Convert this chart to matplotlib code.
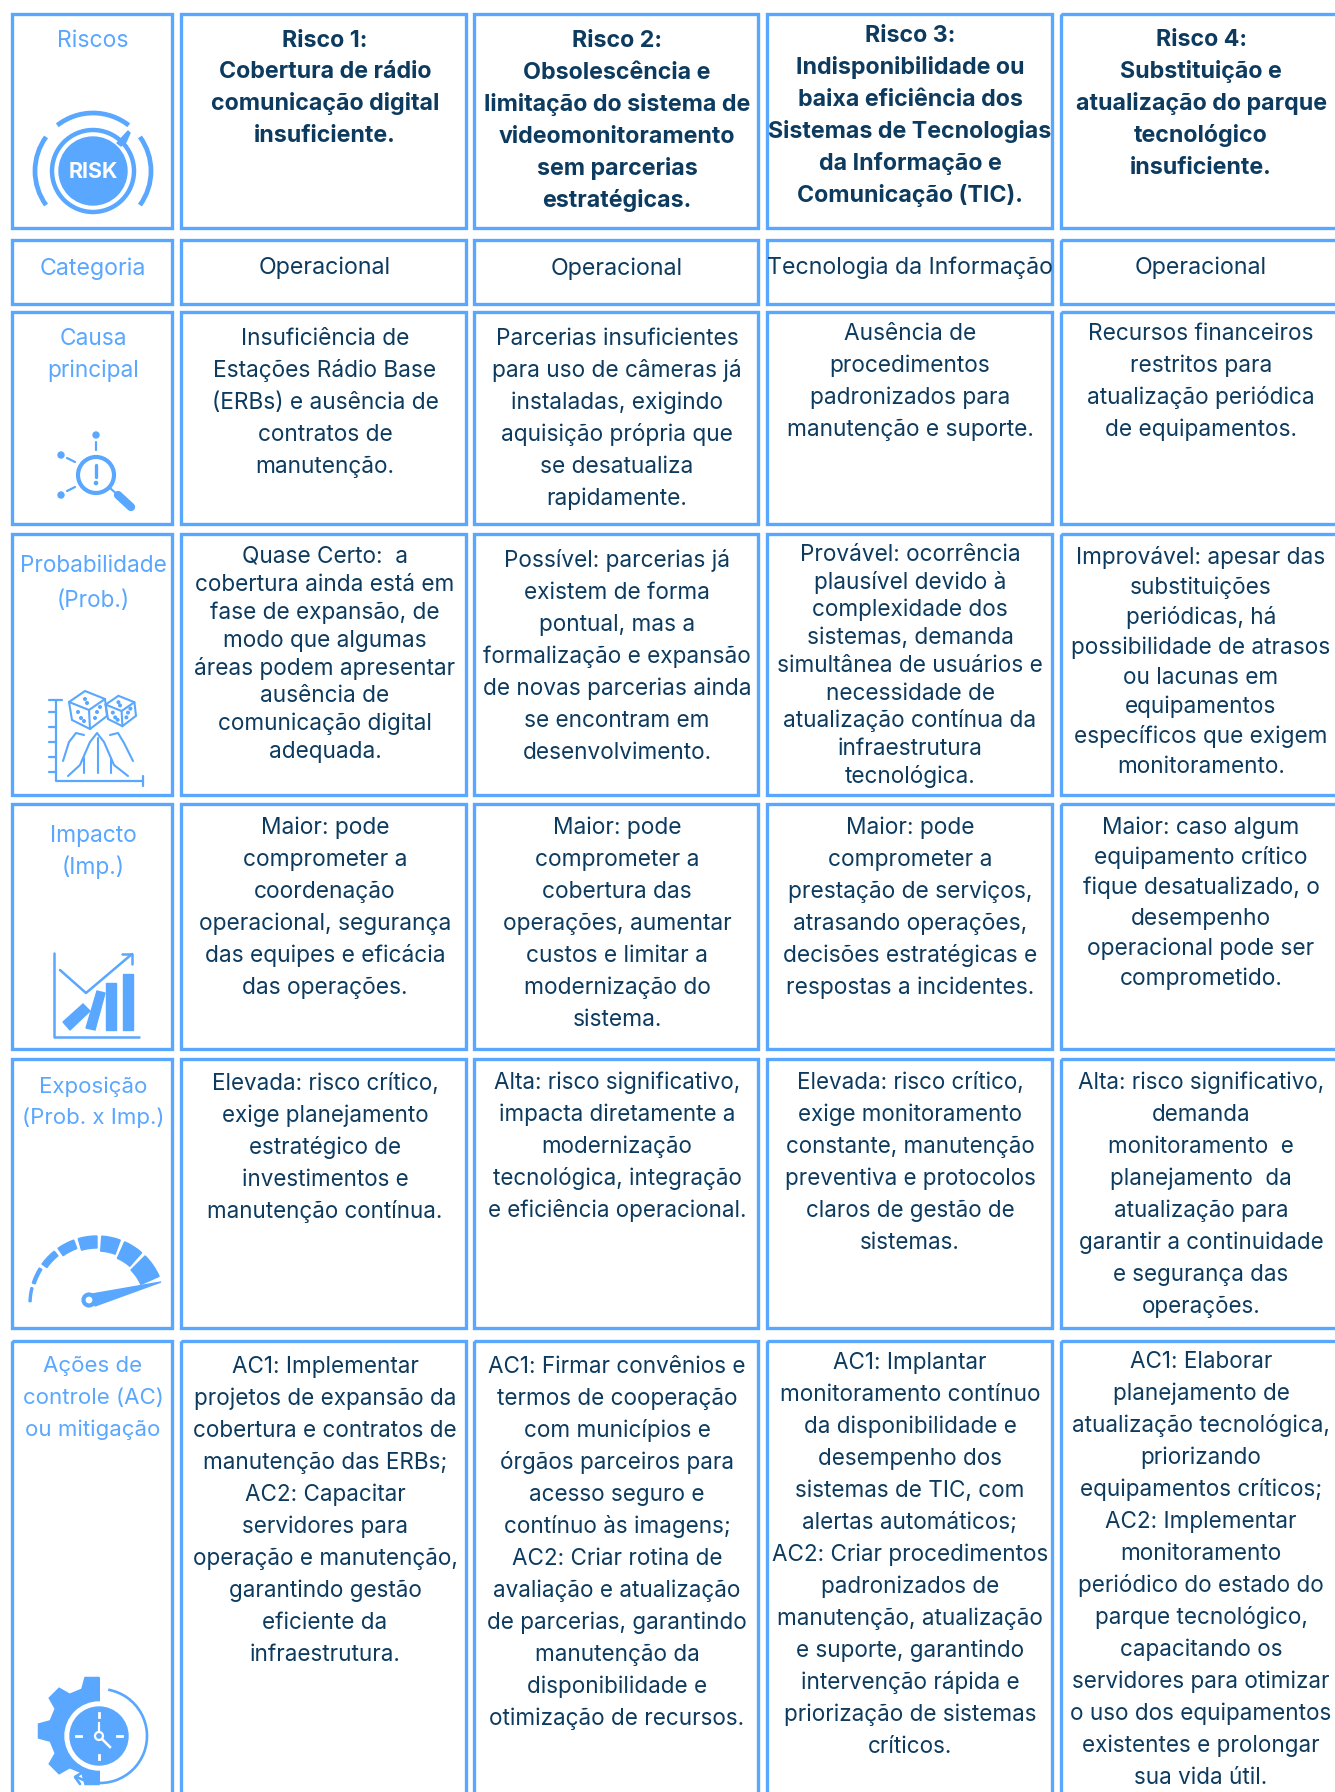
import numpy as np
import matplotlib
matplotlib.use('Agg')
import matplotlib.pyplot as plt
from matplotlib.patches import Rectangle, Circle, Wedge, Polygon, Arc

BLUE = '#59a7ff'
NAVY = '#0d3b5f'

row_labels = ['Riscos', 'Categoria', 'Causa\nprincipal', 'Probabilidade\n(Prob.)',
              'Impacto\n(Imp.)', 'Exposição\n(Prob. x Imp.)', 'Ações de\ncontrole (AC)\nou mitigação']

risks = ['Risco 1:\nCobertura de rádio\ncomunicação digital\ninsuficiente.',
         'Risco 2:\nObsolescência e\nlimitação do sistema de\nvideomonitoramento\nsem parcerias\nestratégicas.',
         'Risco 3:\nIndisponibilidade ou\nbaixa eficiência dos\nSistemas de Tecnologias\nda Informação e\nComunicação (TIC).',
         'Risco 4:\nSubstituição e\natualização do parque\ntecnológico\ninsuficiente.']
categories = ['Operacional', 'Operacional', 'Tecnologia da Informação', 'Operacional']
causes = ['Insuficiência de\nEstações Rádio Base\n(ERBs) e ausência de\ncontratos de\nmanutenção.',
          'Parcerias insuficientes\npara uso de câmeras já\ninstaladas, exigindo\naquisição própria que\nse desatualiza\nrapidamente.',
          'Ausência de\nprocedimentos\npadronizados para\nmanutenção e suporte.',
          'Recursos financeiros\nrestritos para\natualização periódica\nde equipamentos.']
probabilities = ['Quase Certo:  a\ncobertura ainda está em\nfase de expansão, de\nmodo que algumas\náreas podem apresentar\nausência de\ncomunicação digital\nadequada.',
                 'Possível: parcerias já\nexistem de forma\npontual, mas a\nformalização e expansão\nde novas parcerias ainda\nse encontram em\ndesenvolvimento.',
                 'Provável: ocorrência\nplausível devido à\ncomplexidade dos\nsistemas, demanda\nsimultânea de usuários e\nnecessidade de\natualização contínua da\ninfraestrutura\ntecnológica.',
                 'Improvável: apesar das\nsubstituições\nperiódicas, há\npossibilidade de atrasos\nou lacunas em\nequipamentos\nespecíficos que exigem\nmonitoramento.']
impacts = ['Maior: pode\ncomprometer a\ncoordenação\noperacional, segurança\ndas equipes e eficácia\ndas operações.',
           'Maior: pode\ncomprometer a\ncobertura das\noperações, aumentar\ncustos e limitar a\nmodernização do\nsistema.',
           'Maior: pode\ncomprometer a\nprestação de serviços,\natrasando operações,\ndecisões estratégicas e\nrespostas a incidentes.',
           'Maior: caso algum\nequipamento crítico\nfique desatualizado, o\ndesempenho\noperacional pode ser\ncomprometido.']
exposures = ['Elevada: risco crítico,\nexige planejamento\nestratégico de\ninvestimentos e\nmanutenção contínua.',
             'Alta: risco significativo,\nimpacta diretamente a\nmodernização\ntecnológica, integração\ne eficiência operacional.',
             'Elevada: risco crítico,\nexige monitoramento\nconstante, manutenção\npreventiva e protocolos\nclaros de gestão de\nsistemas.',
             'Alta: risco significativo,\ndemanda\nmonitoramento  e\nplanejamento  da\natualização para\ngarantir a continuidade\ne segurança das\noperações.']
actions = ['AC1: Implementar\nprojetos de expansão da\ncobertura e contratos de\nmanutenção das ERBs;\nAC2: Capacitar\nservidores para\noperação e manutenção,\ngarantindo gestão\neficiente da\ninfraestrutura.',
           'AC1: Firmar convênios e\ntermos de cooperação\ncom municípios e\nórgãos parceiros para\nacesso seguro e\ncontínuo às imagens;\nAC2: Criar rotina de\navaliação e atualização\nde parcerias, garantindo\nmanutenção da\ndisponibilidade e\notimização de recursos.',
           'AC1: Implantar\nmonitoramento contínuo\nda disponibilidade e\ndesempenho dos\nsistemas de TIC, com\nalertas automáticos;\nAC2: Criar procedimentos\npadronizados de\nmanutenção, atualização\ne suporte, garantindo\nintervenção rápida e\npriorização de sistemas\ncríticos.',
           'AC1: Elaborar\nplanejamento de\natualização tecnológica,\npriorizando\nequipamentos críticos;\nAC2: Implementar\nmonitoramento\nperiódico do estado do\nparque tecnológico,\ncapacitando os\nservidores para otimizar\no uso dos equipamentos\nexistentes e prolongar\nsua vida útil.']
rows = [risks, categories, causes, probabilities, impacts, exposures, actions]

# layout in pixels of the 1335x1792 picture
col_edges = [(12, 172), (181, 466), (474, 758), (767, 1052), (1061, 1345)]
col_centers = [93, 325, 617, 910, 1201]
row_edges = [(14, 228), (240, 304), (312, 524), (534, 795), (804, 1049), (1059, 1328), (1341, 1810)]
first_line = [[39, 39, 39, 34, 38],
              [267, 266, 267, 266, 266],
              [337, 337, 337, 332, 332],
              [564, 555, 559, 553, 556],
              [834, 826, 826, 826, 826],
              [1085, 1082, 1081, 1081, 1081],
              [1364, 1365, 1365, 1361, 1360]]
line_step = [[32, 31.5, 32, 32, 32],
             [32, 32, 32, 32, 32],
             [32, 32, 32, 32, 32],
             [35, 27.9, 32, 27.7, 29.9],
             [32, 32, 32, 32, 30.2],
             [31.5, 32, 32, 32, 32],
             [32, 32, 32, 32, 32]]
font_px = [23, 23.2, 22.7, 22.6, 22.8, 22.4, 22.5]

plt.rcParams['font.family'] = ['Inter', 'DejaVu Sans']
fig = plt.figure(figsize=(13.35, 17.92), dpi=100)
ax = fig.add_axes([0, 0, 1, 1])
ax.set_xlim(0, 1335)
ax.set_ylim(1792, 0)
ax.axis('off')

for r, (y0, y1) in enumerate(row_edges):
    for c, (x0, x1) in enumerate(col_edges):
        ax.add_patch(Rectangle((x0, y0), x1 - x0, y1 - y0, fill=False, ec=BLUE, lw=2.4))
        text = row_labels[r] if c == 0 else rows[r][c - 1]
        bold = r == 0 and c > 0
        for i, txt in enumerate(text.split('\n')):
            y = first_line[r][c] + i * line_step[r][c] + 8
            size = font_px[r] * 0.72 * (1.01 if bold else 1.0)
            ax.text(col_centers[c], y, txt, ha='center', va='baseline',
                    fontsize=min(size, 16.0) if c == 0 and r >= 5 else size,
                    color=BLUE if c == 0 else NAVY,
                    fontweight='bold' if bold else 'normal')


def line(xs, ys, lw=2.2, **kw):
    ax.plot(xs, ys, color=BLUE, lw=lw, solid_capstyle='round', **kw)


# risk badge
ax.add_patch(Circle((93, 171), 41, fill=False, ec=BLUE, lw=3.2))
ax.add_patch(Circle((93, 171), 34, color=BLUE))
ax.text(93, 172, 'RISK', color='white', fontsize=15.5, fontweight='bold', ha='center', va='center')
for mid, span in [(0, 72), (-90, 76), (180, 72)]:
    ax.add_patch(Arc((93, 171), 116, 116, theta1=mid - span / 2, theta2=mid + span / 2, ec=BLUE, lw=3.4))
ax.add_patch(Polygon([(117, 143), (128, 131), (130, 133), (126, 142), (121, 146)], color=BLUE))

# magnifier
ax.add_patch(Circle((96, 475), 18, fill=False, ec=BLUE, lw=3))
line([110, 120], [488, 497], lw=1.5)
line([118, 131], [495, 507], lw=6)
line([96, 96], [465, 477], lw=2.4)
ax.add_patch(Circle((96, 483), 1.6, color=BLUE))
for cx, cy, xs, ys in [(96, 435, [96, 96], [442, 450]),
                       (61, 455, [67, 75], [458, 462]),
                       (61, 495, [67, 75], [491, 487])]:
    ax.add_patch(Circle((cx, cy), 3, color=BLUE))
    line(xs, ys, lw=1.6)

# dice over bell curves
line([56, 56, 143], [700, 781, 781], lw=1.6)
line([49, 62], [700, 700], lw=1.6)
line([143, 143], [776, 786], lw=1.6)
for ty in [712, 727, 742, 757, 772]:
    line([49, 56], [ty, ty], lw=1.6)
for cx, cy, s in [(87, 710, 1.0), (120, 711, 0.8)]:
    ax.add_patch(Polygon([(cx - 18 * s, cy - 8 * s), (cx - 2 * s, cy - 19 * s), (cx + 18 * s, cy - 11 * s),
                          (cx + 20 * s, cy + 6 * s), (cx + 3 * s, cy + 19 * s), (cx - 15 * s, cy + 10 * s)],
                         fill=False, ec=BLUE, lw=1.5))
    line([cx - 18 * s, cx + 2 * s, cx + 18 * s], [cy - 8 * s, cy, cy - 11 * s], lw=1.5)
    line([cx + 2 * s, cx + 3 * s], [cy, cy + 19 * s], lw=1.5)
    for dx, dy in [(-2, -11), (0, -7), (-9, 2), (-6, 8), (10, 2), (13, -3), (8, 8), (-3, 11)]:
        ax.add_patch(Circle((cx + dx * s, cy + dy * s), 1.3, color=BLUE))
line([63, 69, 76, 84], [761, 742, 733, 735], lw=1.5)
line([68, 80, 90, 97, 104, 114, 128], [776, 765, 742, 733, 742, 765, 776], lw=1.5)
line([110, 118, 124, 133], [735, 733, 743, 761], lw=1.5)
line([98, 98], [738, 773], lw=1.5)
line([84, 84], [758, 773], lw=1.5)
line([111, 111], [758, 773], lw=1.5)

# bars and arrow
line([54, 54, 139], [953, 1037, 1037], lw=1.8)
line([60, 86, 132], [970, 993, 954], lw=1.8)
line([122, 132, 132], [954, 954, 964], lw=1.8)
ax.add_patch(Rectangle((123, 974), 10, 56, color=BLUE))
ax.add_patch(Rectangle((106, 983), 10, 47, color=BLUE))
ax.add_patch(Polygon([(97, 991), (105, 993), (95, 1030), (86, 1028)], color=BLUE))
ax.add_patch(Polygon([(63, 1022), (83, 1004), (90, 1011), (70, 1030)], color=BLUE))

# gauge
gauge_starts = [-178, -162, -144, -125, -106, -86, -66, -45]
gauge_ends = [-166, -148, -129, -110, -90, -70, -49, -24]
gauge_widths = [2, 3, 6, 9, 12, 15, 18, 20]
for a0, a1, w in zip(gauge_starts, gauge_ends, gauge_widths):
    ax.add_patch(Wedge((97, 1304), 68, a0, a1, width=w, color=BLUE))
ax.add_patch(Polygon([(92, 1294), (161, 1282), (95, 1306)], color=BLUE))
ax.add_patch(Circle((89, 1300), 5.5, fc='white', ec=BLUE, lw=3))

# gear and clock
teeth = []
for k in range(8):
    for da, rad in [(-0.24, 43), (-0.13, 54), (0.13, 54), (0.24, 43)]:
        a = k * 2 * np.pi / 8 + da - np.pi / 2
        teeth.append((92 + rad * np.cos(a), 1731 + rad * np.sin(a)))
gear = Polygon(teeth, color=BLUE)
ax.add_patch(gear)
gear.set_clip_path(Rectangle((30, 1670), 70, 125, transform=ax.transData))
ax.add_patch(Circle((99, 1736), 34, color='white', zorder=3))
ax.add_patch(Circle((99, 1736), 29, color=BLUE, zorder=3))
for xs, ys in [([99, 99], [1713, 1717]), ([99, 99], [1755, 1759]), ([76, 81], [1736, 1736]), ([117, 122], [1736, 1736])]:
    ax.plot(xs, ys, color='white', lw=2, zorder=4)
ax.plot([99, 99], [1723, 1736], color='white', lw=1.6, zorder=4)
ax.plot([99, 110], [1736, 1747], color='white', lw=1.8, zorder=4)
ax.add_patch(Circle((99, 1736), 4, fc=BLUE, ec='white', lw=1.6, zorder=5))
ax.add_patch(Arc((100, 1736), 94, 94, theta1=-80, theta2=122, ec=BLUE, lw=1.9, zorder=6))
line([83, 75, 80], [1772, 1777, 1784], lw=1.9, zorder=6)

fig.savefig('out.png', dpi=100, facecolor='white')
